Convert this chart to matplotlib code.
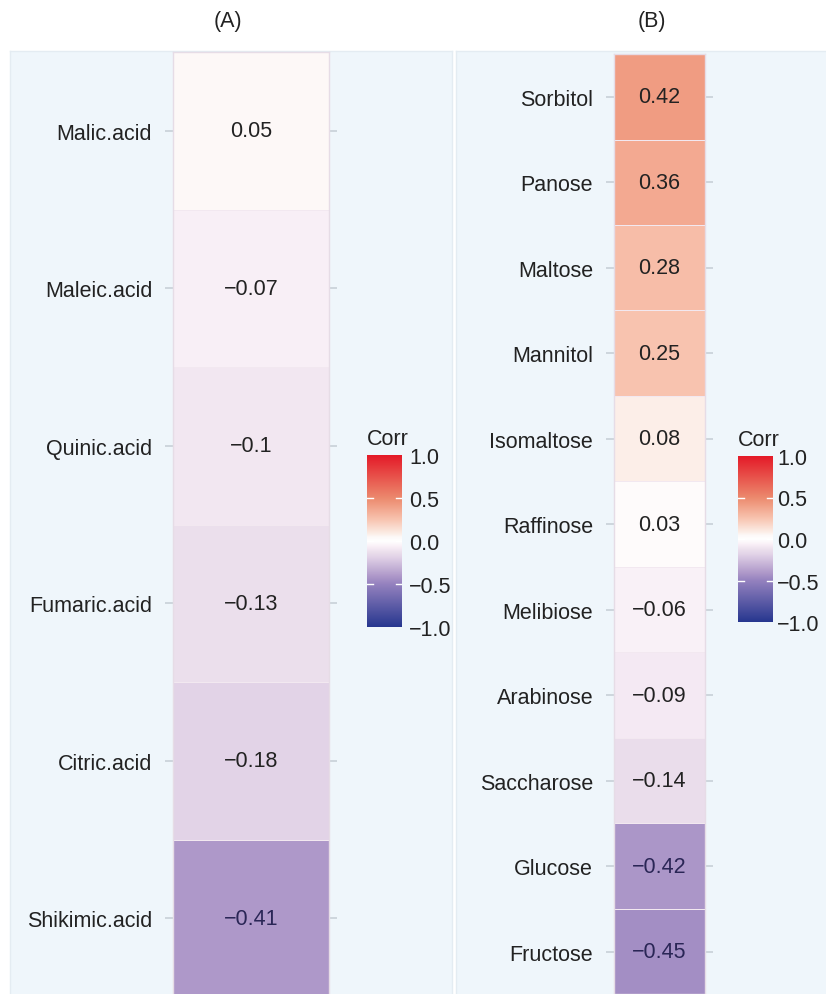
import numpy as np
import matplotlib.pyplot as plt
from matplotlib.colors import LinearSegmentedColormap

plt.rcParams['font.family'] = ['Liberation Sans', 'DejaVu Sans']

# Correlation of organic acids (A) and sugars (B)
acids = ['Malic.acid', 'Maleic.acid', 'Quinic.acid', 'Fumaric.acid',
         'Citric.acid', 'Shikimic.acid']
acid_corr = [0.05, -0.07, -0.1, -0.13, -0.18, -0.41]

sugars = ['Sorbitol', 'Panose', 'Maltose', 'Mannitol', 'Isomaltose',
          'Raffinose', 'Melibiose', 'Arabinose', 'Saccharose', 'Glucose',
          'Fructose']
sugar_corr = [0.42, 0.36, 0.28, 0.25, 0.08, 0.03, -0.06, -0.09, -0.14,
              -0.42, -0.45]

cbar_ticks = [-1.0, -0.5, 0.0, 0.5, 1.0]

# blue - white - red gradient, washed out a little like the printed figure
cmap = LinearSegmentedColormap.from_list('corr', [
    (0.0, '#27378f'),
    (0.25, '#9582bf'),
    (0.295, '#ae98c9'),
    (0.41, '#e3d4e8'),
    (0.435, '#ebdfec'),
    (0.465, '#f8eef6'),
    (0.48, '#fcf6fa'),
    (0.5, '#ffffff'),
    (0.525, '#fdf8f7'),
    (0.54, '#fcefe9'),
    (0.625, '#f8c4b0'),
    (0.71, '#f09c82'),
    (0.75, '#ec8a6e'),
    (1.0, '#e41a28'),
])

W, H = 826, 995
fig = plt.figure(figsize=(W / 100, H / 100), dpi=100)
fig.patch.set_facecolor('white')
FS = 15.5


def box(x0, y0, x1, y1):
    """pixel box (top-left origin) -> figure rect"""
    return [x0 / W, 1 - y1 / H, (x1 - x0) / W, (y1 - y0) / H]


def panel_bg(x0, x1):
    bg = fig.add_axes(box(x0, 52, x1, 1000), zorder=0)
    bg.set_facecolor('#eff6fb')
    bg.set_xticks([])
    bg.set_yticks([])
    for s in bg.spines.values():
        s.set_color('#e4ecf2')
        s.set_linewidth(1)


def heat_column(rect, names, vals):
    ax = fig.add_axes(rect, zorder=2)
    data = np.array(vals).reshape(-1, 1)
    ax.pcolormesh(data, cmap=cmap, vmin=-1, vmax=1,
                  edgecolors='#f2e8f0', linewidth=0.4)
    ax.set_ylim(len(vals), 0)
    ax.set_xlim(0, 1)
    ax.set_xticks([])
    ax.set_yticks(np.arange(len(vals)) + 0.5)
    ax.set_yticklabels(names, fontsize=FS, color='#222222')
    ax.tick_params(axis='y', left=True, right=True, length=6, width=1.2,
                   color='#c8d0d8', pad=9)
    for s in ax.spines.values():
        s.set_color('#e6dce6')
        s.set_linewidth(1)
    for i, v in enumerate(vals):
        txt = f'{v:g}'.replace('-', '\u2212')
        col = '#2a2656' if v < -0.3 else '#222222'
        ax.text(0.5, i + 0.5, txt, ha='center', va='center',
                fontsize=FS, color=col)
    return ax


def corr_bar(rect, ticks, pad=5):
    cax = fig.add_axes(rect, zorder=2)
    grad = np.linspace(-1, 1, 256).reshape(-1, 1)
    cax.imshow(grad, cmap=cmap, vmin=-1, vmax=1, aspect='auto',
               origin='lower', extent=[0, 1, -1, 1])
    cax.set_xticks([])
    cax.yaxis.tick_right()
    cax.set_yticks(ticks)
    cax.set_yticklabels([f'{t:.1f}'.replace('-', '\u2212') for t in ticks],
                        fontsize=FS, color='#222222')
    cax.tick_params(axis='y', length=0, pad=pad)
    for t in ticks[1:-1]:
        cax.plot([0, 0.18], [t, t], color='white', lw=1)
        cax.plot([0.82, 1], [t, t], color='white', lw=1)
    cax.set_xlim(0, 1)
    cax.set_ylim(-1, 1)
    for s in cax.spines.values():
        s.set_visible(False)
    cax.set_title('Corr', fontsize=FS, loc='left', pad=8, color='#222222')
    return cax


panel_bg(10, 452)
panel_bg(456, 840)

heat_column(box(173, 53, 329, 998), acids, acid_corr)
heat_column(box(614, 55, 705, 995.5), sugars, sugar_corr)

corr_bar(box(367, 456, 402, 628), cbar_ticks)
corr_bar(box(738, 457, 773, 623), cbar_ticks, pad=3)

fig.text(228 / W, 1 - 22 / H, '(A)', ha='center', va='center', fontsize=FS,
         color='#222222')
fig.text(652 / W, 1 - 22 / H, '(B)', ha='center', va='center', fontsize=FS,
         color='#222222')

fig.savefig('out.png', dpi=100)
